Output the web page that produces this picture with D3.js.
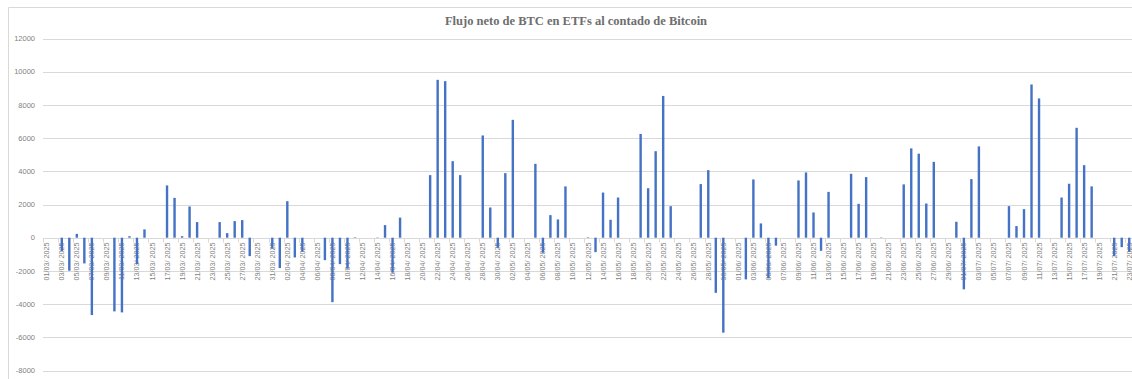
<!DOCTYPE html>
<html>
<head>
<meta charset="utf-8">
<script src="https://cdn.jsdelivr.net/npm/d3@7"></script>
<style>
  body { margin: 0; background: #fff; }
  #chart { position: relative; }
</style>
</head>
<body>
<div id="chart"></div>
<script>
// chart data
let title = "Flujo neto de BTC en ETFs al contado de Bitcoin";
let firstDay = "2025-03-01";
let lastDay = "2025-07-23";
let yTicks = [-8000, -6000, -4000, -2000, 0, 2000, 4000, 6000, 8000, 10000, 12000];

// net flow in BTC per day (null = no trading / no data)
let flows = [
  null, null, -800, -1990, 230, -1550, -4660, null, null, -4440,
  -4500, 90, -1590, 500, null, null, 3150, 2400, 90, 1880,
  940, null, null, 940, 275, 1000, 1060, -1110, null, null,
  -670, -1830, 2200, -1190, -850, null, null, -1350, -3880, -1590,
  -1870, 30, null, null, 20, 760, -2110, 1210, null, null,
  null, 3770, 9510, 9430, 4610, 3770, null, null, 6160, 1820,
  -610, 3890, 7100, null, null, 4450, -910, 1360, 1100, 3090,
  null, null, 30, -870, 2720, 1080, 2420, null, null, 6250,
  2980, 5210, 8540, 1900, null, null, null, 3230, 4070, -3320,
  -5720, null, null, -2510, 3510, 860, -2450, -480, null, null,
  3450, 3930, 1520, -790, 2760, null, null, 3850, 2040, 3650,
  null, 20, null, null, 3210, 5380, 5060, 2060, 4570, null,
  null, 960, -3110, 3530, 5500, null, null, null, 1900, 700,
  1720, 9230, 8390, null, null, 2420, 3250, 6620, 4370, 3090,
  null, null, -1110, -570, -850
];

let W = 1132, H = 379;
let fmt = d3.utcFormat("%d/%m/ %Y");
let days = d3.utcDay.range(new Date(firstDay), d3.utcDay.offset(new Date(lastDay), 1));

let data = days.map((d, i) => ({ label: fmt(d), value: flows[i] }));

var svg = d3.select("#chart")
  .append("svg")
  .attr("width", W)
  .attr("height", H)
  .style("font-family", "'Liberation Sans', Arial, sans-serif");

// chart area border (left + top visible)
svg.append("path")
  .attr("d", "M8.5," + H + " L8.5,7.5 L" + W + ",7.5")
  .attr("fill", "none")
  .attr("stroke", "#d9d9d9")
  .attr("stroke-width", 1);

svg.append("text")
  .attr("x", 576)
  .attr("y", 25)
  .attr("text-anchor", "middle")
  .style("font-family", "'Liberation Serif', 'Times New Roman', serif")
  .style("font-weight", "bold")
  .style("font-size", "12.5px")
  .style("fill", "#6e6e6e")
  .text(title);

var x = d3.scaleBand()
  .domain(data.map(d => d.label))
  .range([43, 1133])
  .padding(0);

var y = d3.scaleLinear()
  .domain([-8000, 12000])
  .range([370.5, 38.5]);

// gridlines
svg.append("g")
  .selectAll("line")
  .data(yTicks)
  .enter()
  .append("line")
    .attr("x1", 43)
    .attr("x2", W)
    .attr("y1", d => Math.round(y(d)) + 0.5)
    .attr("y2", d => Math.round(y(d)) + 0.5)
    .attr("stroke", "#d9d9d9")
    .attr("stroke-width", 1);

// y labels
svg.append("g")
  .selectAll("text")
  .data(yTicks)
  .enter()
  .append("text")
    .attr("x", 35)
    .attr("y", d => y(d))
    .attr("dy", "0.35em")
    .attr("text-anchor", "end")
    .style("font-size", "7.5px")
    .style("fill", "#7f7f7f")
    .text(d => d);

// category labels, every second day
let shown = data.filter((d, i) => i % 2 == 0);
let y0 = Math.round(y(0)) + 0.5;

svg.append("g")
  .selectAll("line")
  .data(shown)
  .enter()
  .append("line")
    .attr("x1", d => Math.round(x(d.label)) + 0.5)
    .attr("x2", d => Math.round(x(d.label)) + 0.5)
    .attr("y1", y0)
    .attr("y2", y0 + 4)
    .attr("stroke", "#d9d9d9");

svg.append("g")
  .selectAll("text")
  .data(shown)
  .enter()
  .append("text")
    .attr("transform", d => "translate(" + (x(d.label) + x.bandwidth() / 2 + 2.5) + "," + (y0 + 4) + ") rotate(-90)")
    .attr("text-anchor", "end")
    .style("font-size", "7.2px")
    .style("fill", "#7f7f7f")
    .text(d => d.label);

// bars
let bw = 2.4;
svg.append("g")
  .selectAll("rect")
  .data(data.filter(d => d.value !== null))
  .enter()
  .append("rect")
    .attr("x", d => x(d.label) + x.bandwidth() / 2 - bw / 2)
    .attr("y", d => y(Math.max(0, d.value)))
    .attr("width", bw)
    .attr("height", d => Math.abs(y(d.value) - y(0)))
    .style("fill", "#4472c4");
</script>
</body>
</html>
